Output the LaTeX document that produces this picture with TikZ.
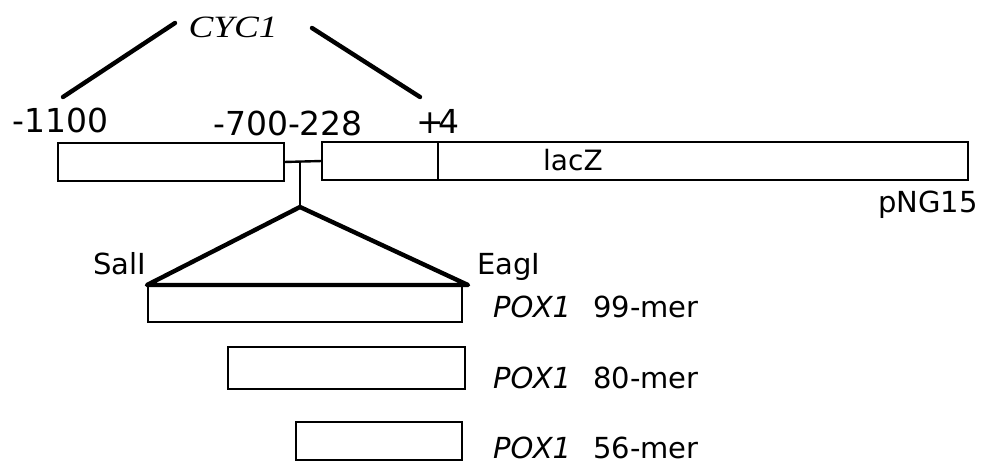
\documentclass[tikz,border=0pt]{standalone}
\usepackage{fontspec}
\setmainfont{DejaVu Sans}
\newfontfamily\cycfont[FakeStretch=1.2]{Liberation Serif}
\usetikzlibrary{positioning}
\tikzset{gbox/.style={draw,line width=2.4pt,inner sep=0,outer sep=0},
big/.style={inner sep=0,font=\fontsize{33}{36}\selectfont},
small/.style={inner sep=0,font=\fontsize{29}{32}\selectfont},
thk/.style={line width=4.4pt,line cap=round,line join=round}}
\begin{document}
\begin{tikzpicture}[x=1pt,y=-1pt]
\useasboundingbox(0,0)rectangle(985,463);
\node[gbox,minimum width=226pt,minimum height=38pt](up)at(171,162){};
\node[gbox,minimum width=116pt,minimum height=38pt](prom)at(380,161){};
\node[gbox,minimum width=530pt,minimum height=38pt](lz)at(703,161){};
\node[gbox,minimum width=314pt,minimum height=37pt](m99)at(305,303.5){};
\node[gbox,minimum width=237pt,minimum height=42pt](m80)at(346.5,368){};
\node[gbox,minimum width=166pt,minimum height=38pt](m56)at(379,441){};
\coordinate(junc)at(300,161);\coordinate(apex)at(300,207);\coordinate(sal)at(147,285);\coordinate(eag)at(468,285);
\draw[line width=2.4pt](up.east)--(prom.west);\draw[line width=2.4pt](junc)--(apex);
\draw[thk](apex)--(sal)--(eag)--cycle;
\coordinate(l1)at(63,97);\coordinate(l2)at(175,23);\coordinate(r1)at(312,28);\coordinate(r2)at(420,97);
\draw[thk](l1)--(l2);\draw[thk](r1)--(r2);
\node[inner sep=0,anchor=base,font=\fontsize{31}{34}\selectfont\cycfont\itshape](cyc)at(233,37){CYC1};
\node[big,anchor=base west](p1)at(12,132){-1100};
\node[big,anchor=base west](p2)at(213,135){-700-228};
\node[big,anchor=base east](p3)at(460,133){+\kern-.15em4};
\node[inner sep=0,anchor=base west,font=\fontsize{28}{32}\selectfont](lac)at(543,170){lacZ};
\node[small,anchor=base east](png)at(978,212){pNG15};
\node[small,anchor=base west](sl)at(93,274){SalI};
\node[small,anchor=base west](eg)at(477,274){EagI};
\node[small,anchor=base west,font=\fontsize{29}{32}\selectfont\itshape](x1)at(493,317){POX1};\node[small,anchor=base west](n1)at(593,317){99-mer};
\node[small,anchor=base west,font=\fontsize{29}{32}\selectfont\itshape](x2)at(493,388){POX1};\node[small,anchor=base west](n2)at(593,388){80-mer};
\node[small,anchor=base west,font=\fontsize{29}{32}\selectfont\itshape](x3)at(493,458){POX1};\node[small,anchor=base west](n3)at(593,458){56-mer};
\end{tikzpicture}
\end{document}
